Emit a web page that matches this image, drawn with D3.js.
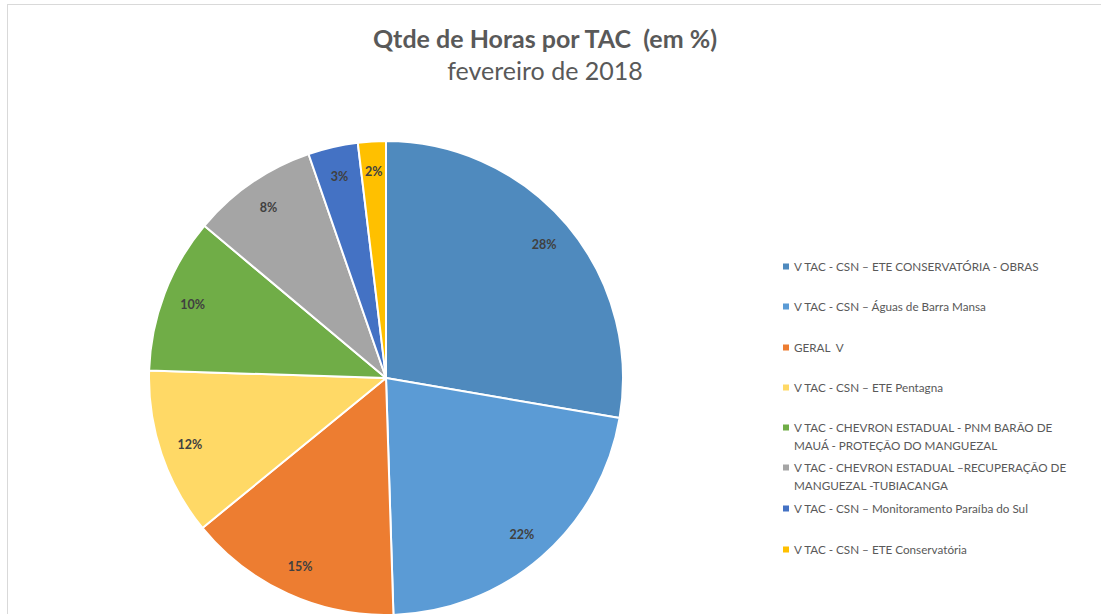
<!DOCTYPE html>
<html>
<head>
<meta charset="utf-8">
<script src="https://d3js.org/d3.v7.min.js" charset="utf-8"></script>
<style>
  body { margin: 0; background: #fff; }
  svg { font-family: Lato, "Open Sans", sans-serif; }
</style>
</head>
<body>
<div id="chart"></div>
<script>
const width = 1101, height = 614;

// data
const categories = [
  "V TAC - CSN \u2013 ETE CONSERVAT\u00d3RIA - OBRAS",
  "V TAC - CSN \u2013 \u00c1guas de Barra Mansa",
  "GERAL  V",
  "V TAC - CSN \u2013 ETE Pentagna",
  "V TAC - CHEVRON ESTADUAL - PNM BAR\u00c3O DE|MAU\u00c1 - PROTE\u00c7\u00c3O DO MANGUEZAL",
  "V TAC - CHEVRON ESTADUAL \u2013RECUPERA\u00c7\u00c3O DE|MANGUEZAL -TUBIACANGA",
  "V TAC - CSN \u2013 Monitoramento Para\u00edba do Sul",
  "V TAC - CSN \u2013 ETE Conservat\u00f3ria"
];
const values = [27.7, 21.8, 14.6, 11.4, 10.6, 8.6, 3.4, 1.9];
const labels = ["28%", "22%", "15%", "12%", "10%", "8%", "3%", "2%"];
const colors = ["#4f8abe", "#5b9bd5", "#ed7d31", "#ffd966", "#70ad47", "#a5a5a5", "#4472c4", "#ffc000"];

const svg = d3.select("#chart").append("svg")
    .attr("width", width)
    .attr("height", height);

// chart border
svg.append("rect")
    .attr("x", 7.5).attr("y", 4.5)
    .attr("width", width).attr("height", height)
    .attr("fill", "#fff")
    .attr("stroke", "#d9d9d9");

svg.append("text")
    .attr("x", 545).attr("y", 48)
    .attr("text-anchor", "middle")
    .attr("font-size", 25).attr("font-weight", "bold")
    .attr("fill", "#595959")
    .attr("xml:space", "preserve")
    .text("Qtde de Horas por TAC  (em %)");

svg.append("text")
    .attr("x", 545).attr("y", 80)
    .attr("text-anchor", "middle")
    .attr("font-size", 25)
    .attr("fill", "#595959")
    .text("fevereiro de 2018");

const cx = 386, cy = 378, R = 237;

const pie = d3.pie().sort(null).value(d => d);
const arc = d3.arc().innerRadius(0).outerRadius(R);
const labelArc = d3.arc().innerRadius(207).outerRadius(207);

const g = svg.append("g").attr("transform", `translate(${cx},${cy})`);
const arcs = pie(values);

g.selectAll("path")
  .data(arcs)
  .join("path")
    .attr("d", arc)
    .attr("fill", (d, i) => colors[i])
    .attr("stroke", "#fff")
    .attr("stroke-width", 2)
    .attr("stroke-linejoin", "round");

g.selectAll("text")
  .data(arcs)
  .join("text")
    .attr("transform", d => `translate(${labelArc.centroid(d)})`)
    .attr("text-anchor", "middle")
    .attr("dy", "0.35em")
    .attr("font-size", 12.5).attr("font-weight", "bold")
    .attr("fill", "#404040")
    .text((d, i) => labels[i]);

// legend
const legendY = [267, 307, 348, 388, 428, 468, 509, 550];
const legend = svg.append("g");
categories.forEach((c, i) => {
  const row = legend.append("g").attr("transform", `translate(783,${legendY[i]})`);
  row.append("rect")
      .attr("x", 0).attr("y", -3.5)
      .attr("width", 6).attr("height", 6)
      .attr("fill", colors[i]);
  c.split("|").forEach((line, k) => {
    row.append("text")
        .attr("x", 11).attr("y", k * 18)
        .attr("dy", "0.35em")
        .attr("font-size", 11.7)
        .attr("fill", "#595959")
        .attr("xml:space", "preserve")
        .text(line);
  });
});
</script>
</body>
</html>
